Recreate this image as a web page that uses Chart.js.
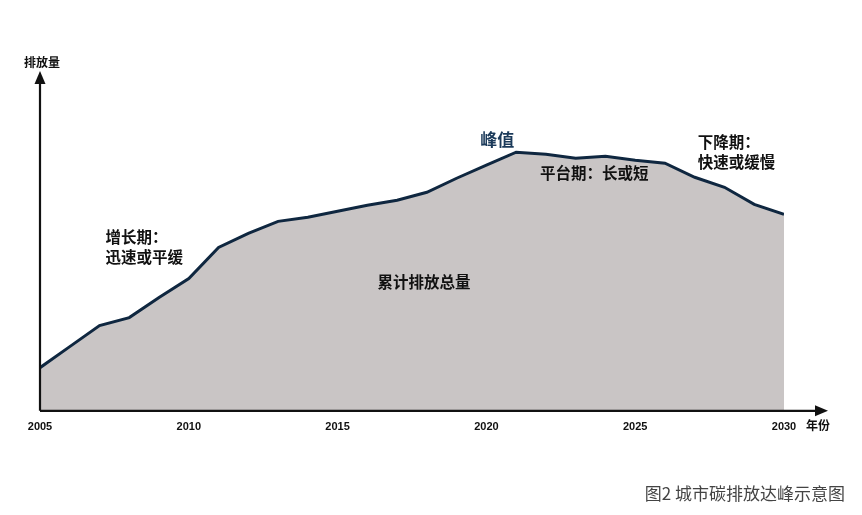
<!DOCTYPE html>
<html>
<head>
<meta charset="utf-8">
<script src="https://cdn.jsdelivr.net/npm/chart.js@4/dist/chart.umd.min.js"></script>
<style>
  html, body { margin: 0; padding: 0; background: #fff; }
  #wrap { width: 862px; height: 515px; position: relative; }
</style>
</head>
<body>
<div id="wrap"><canvas id="chart" width="862" height="515"></canvas></div>
<script>
/* City carbon peak sketch: one filled line, drawn arrows and phase notes. */
const YEARS = [2005, 2006, 2007, 2008, 2009, 2010, 2011, 2012, 2013, 2014, 2015, 2016, 2017,
  2018, 2019, 2020, 2021, 2022, 2023, 2024, 2025, 2026, 2027, 2028, 2029, 2030];
const EMISSIONS = [43, 64, 85, 93, 113, 132, 163, 177, 189, 193, 199, 205, 210,
  218, 232, 245, 258, 256, 252, 254, 250, 247, 233, 223, 206, 196];
const TICK_YEARS = [2005, 2010, 2015, 2020, 2025, 2030];
const PEAK_YEAR = 2021;

const Y_LABEL = "排放量";
const X_LABEL = "年份";
const CAPTION = "图2 城市碳排放达峰示意图";

const COLORS = {
  line: "#0f2740",
  fill: "#c9c5c5",
  axis: "#111",
  text: "#111",
  peak: "#1b3a5a",
  caption: "#444",
};
const CJK = '"Noto Sans CJK SC", "Noto Sans", sans-serif';

// notes: [text, year, value, align]
const NOTES = [
  ["增长期：", 2007.2, 173, "left"],
  ["迅速或平缓", 2007.2, 153, "left"],
  ["平台期：长或短", 2021.8, 237, "left"],
  ["下降期：", 2027.1, 268, "left"],
  ["快速或缓慢", 2027.1, 248, "left"],
  ["累计排放总量", 2017.9, 128, "center"],
];

const decorations = {
  id: "decorations",
  beforeDatasetsDraw(chart) {
    // dashed guide from the peak down to the axis
    const ctx = chart.ctx;
    const xs = chart.scales.x, ys = chart.scales.y;
    const px = Math.round(xs.getPixelForValue(PEAK_YEAR)) + 0.5;
    const peakVal = EMISSIONS[YEARS.indexOf(PEAK_YEAR)];
    ctx.save();
    ctx.strokeStyle = COLORS.axis;
    ctx.lineWidth = 2;
    ctx.setLineDash([4, 3]);
    ctx.beginPath();
    ctx.moveTo(px, ys.getPixelForValue(peakVal));
    ctx.lineTo(px, ys.getPixelForValue(0));
    ctx.stroke();
    ctx.restore();
  },
  afterDraw(chart) {
    const ctx = chart.ctx;
    const a = chart.chartArea;
    const xs = chart.scales.x, ys = chart.scales.y;
    const x0 = xs.getPixelForValue(2005);
    const y0 = ys.getPixelForValue(0);
    const xEnd = a.right + 44;
    ctx.save();
    ctx.strokeStyle = COLORS.axis;
    ctx.fillStyle = COLORS.axis;
    ctx.lineWidth = 2.2;
    // y axis + arrow
    ctx.beginPath();
    ctx.moveTo(x0, y0);
    ctx.lineTo(x0, a.top + 8);
    ctx.stroke();
    ctx.beginPath();
    ctx.moveTo(x0, a.top - 2);
    ctx.lineTo(x0 - 5.5, a.top + 11);
    ctx.lineTo(x0 + 5.5, a.top + 11);
    ctx.closePath();
    ctx.fill();
    // x axis + arrow
    ctx.beginPath();
    ctx.moveTo(x0, y0);
    ctx.lineTo(xEnd - 8, y0);
    ctx.stroke();
    ctx.beginPath();
    ctx.moveTo(xEnd, y0);
    ctx.lineTo(xEnd - 13, y0 - 5.5);
    ctx.lineTo(xEnd - 13, y0 + 5.5);
    ctx.closePath();
    ctx.fill();

    // axis titles
    ctx.textBaseline = "middle";
    ctx.textAlign = "center";
    ctx.font = "bold 12px " + CJK;
    ctx.fillText(Y_LABEL, x0 + 2, a.top - 11);
    ctx.fillText(X_LABEL, xEnd - 10, y0 + 15);

    // peak label
    const peakVal = EMISSIONS[YEARS.indexOf(PEAK_YEAR)];
    ctx.fillStyle = COLORS.peak;
    ctx.font = "bold 17px " + CJK;
    ctx.fillText("峰值", xs.getPixelForValue(PEAK_YEAR) - 19, ys.getPixelForValue(peakVal) - 13);

    // phase notes
    ctx.fillStyle = COLORS.text;
    ctx.font = "bold 15.5px " + CJK;
    NOTES.forEach(([t, yr, v, al]) => {
      ctx.textAlign = al;
      ctx.fillText(t, xs.getPixelForValue(yr), ys.getPixelForValue(v));
    });

    // caption
    ctx.fillStyle = COLORS.caption;
    ctx.font = "17px " + CJK;
    ctx.textAlign = "right";
    ctx.fillText(CAPTION, 845, 494);
    ctx.restore();
  },
};

new Chart(document.getElementById("chart"), {
  type: "line",
  data: {
    datasets: [{
      data: YEARS.map((y, i) => ({ x: y, y: EMISSIONS[i] })),
      borderColor: COLORS.line,
      backgroundColor: COLORS.fill,
      borderWidth: 3,
      fill: "origin",
      tension: 0,
      pointRadius: 0,
    }],
  },
  options: {
    responsive: false,
    animation: false,
    layout: { padding: { left: 40, right: 78, top: 73, bottom: 79 } },
    plugins: { legend: { display: false }, tooltip: { enabled: false } },
    scales: {
      x: {
        type: "linear",
        min: 2005,
        max: 2030,
        grid: { display: false },
        border: { display: false },
        afterBuildTicks: (s) => { s.ticks = TICK_YEARS.map((v) => ({ value: v })); },
        ticks: {
          padding: 2,
          maxRotation: 0,
          color: COLORS.text,
          font: { family: '"Liberation Sans Narrow", "Liberation Sans", sans-serif', size: 11, weight: "bold" },
          callback: (v) => String(v),
        },
      },
      y: { display: false, min: 0, max: 337 },
    },
  },
  plugins: [decorations],
});
</script>
</body>
</html>
